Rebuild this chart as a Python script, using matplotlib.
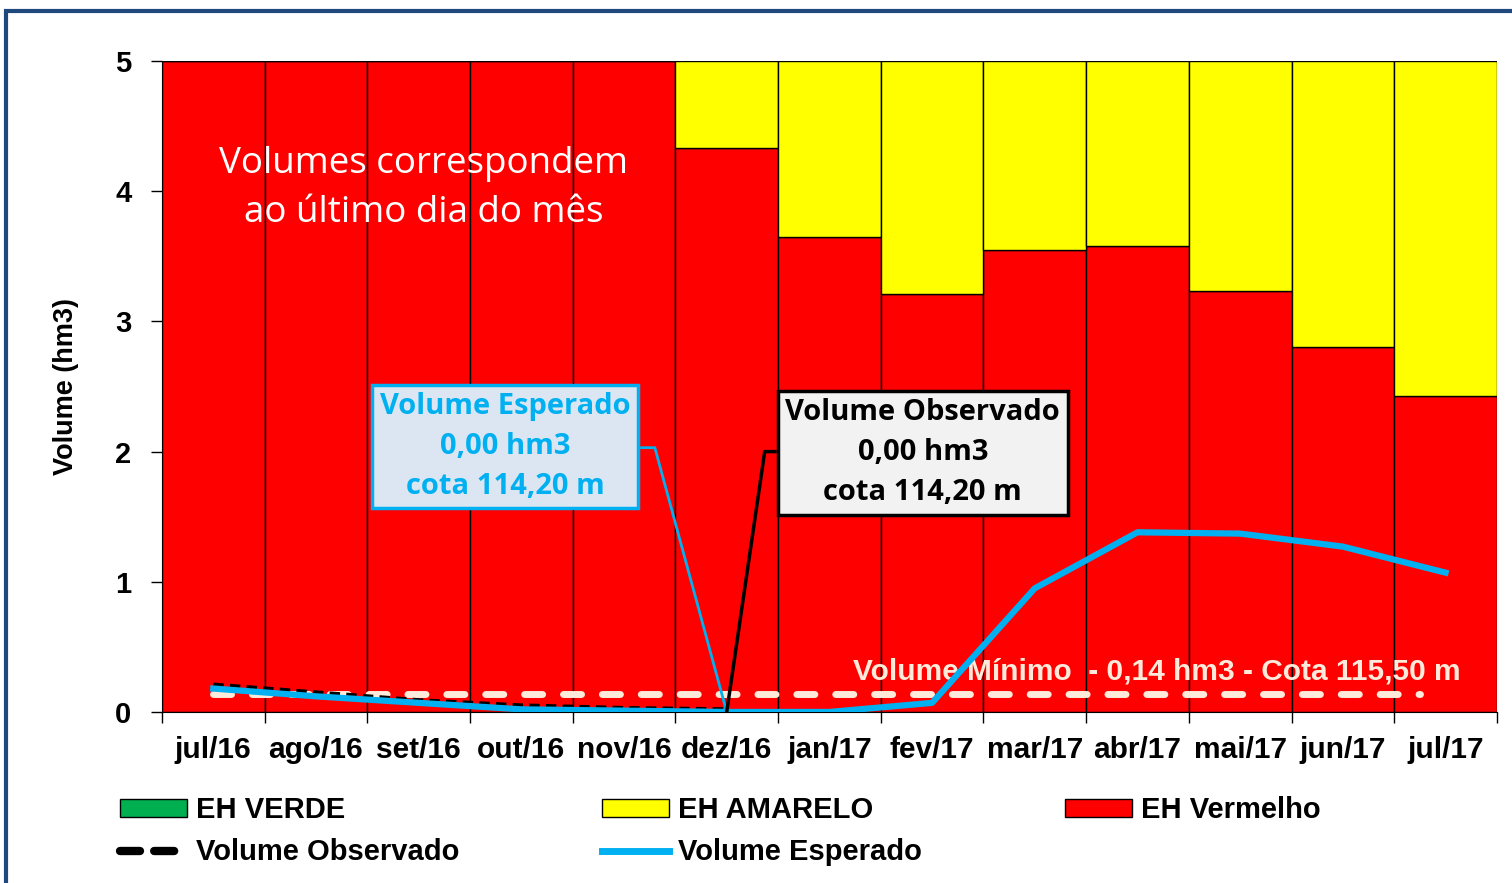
import numpy as np
import matplotlib.pyplot as plt
from matplotlib.patches import Patch, Rectangle
from matplotlib.lines import Line2D

# Monthly categories
months = ["jul/16", "ago/16", "set/16", "out/16", "nov/16", "dez/16", "jan/17",
          "fev/17", "mar/17", "abr/17", "mai/17", "jun/17", "jul/17"]

# Hydrological status bands (stacked up to 5 hm3)
eh_verde = [0, 0, 0, 0, 0, 0, 0, 0, 0, 0, 0, 0, 0]
eh_vermelho = [5.0, 5.0, 5.0, 5.0, 5.0, 4.33, 3.65, 3.21, 3.55, 3.58, 3.23, 2.80, 2.43]
eh_amarelo = [0.0, 0.0, 0.0, 0.0, 0.0, 0.67, 1.35, 1.79, 1.45, 1.42, 1.77, 2.20, 2.57]

# Volumes (hm3)
vol_observado = [0.21, 0.15, 0.09, 0.05, 0.03, 0.02]
vol_esperado = [0.18, 0.12, 0.07, 0.02, 0.01, 0.0, 0.0, 0.07, 0.95, 1.38, 1.37, 1.27, 1.07]
vol_minimo = 0.14

RED = "#FF0000"
YELLOW = "#FFFF00"
GREEN = "#00B050"
BLUE = "#00B0F0"
CREAM = "#FDEADA"

plt.rcParams["font.family"] = ["Liberation Sans", "DejaVu Sans"]

fig = plt.figure(figsize=(15.12, 8.83), dpi=100)
ax = fig.add_axes([0.1071, 0.1937, 0.8829, 0.7372])

x = np.arange(len(months))
ax.bar(x, eh_verde, width=1.0, color=GREEN, edgecolor="black", linewidth=1)
ax.bar(x, eh_vermelho, width=1.0, bottom=eh_verde, color=RED, edgecolor="black", linewidth=1)
ax.bar(x, eh_amarelo, width=1.0, bottom=np.add(eh_verde, eh_vermelho),
       color=YELLOW, edgecolor="black", linewidth=1)

# minimum volume line
ax.plot([x[0], x[-1] - 0.25], [vol_minimo, vol_minimo], color=CREAM, lw=5,
        dashes=(2.6, 3.0), dash_capstyle="round", zorder=3)
ax.text(x[-1] + 0.15, vol_minimo + 0.17, "Volume Mínimo  - 0,14 hm3 - Cota 115,50 m",
        color=CREAM, fontsize=21.5, fontweight="bold", ha="right", va="center", zorder=4)

ax.plot(x[:len(vol_observado)], vol_observado, color="black", lw=3,
        dashes=(2.5, 1.5), zorder=4)
ax.plot(x, vol_esperado, color=BLUE, lw=4.5, zorder=5, solid_joinstyle="round")

# callout boxes with leader lines
ax.plot([4.17, 4.30, 5.0], [2.03, 2.03, 0.0], color=BLUE, lw=2, zorder=5)
ax.plot([5.47, 5.37, 5.0], [2.0, 2.0, 0.0], color="black", lw=2.5, zorder=5)

ax.text(2.84, 2.04, "Volume Esperado\n0,00 hm3\ncota 114,20 m", color=BLUE,
        fontsize=21, fontweight="bold", ha="center", va="center", linespacing=1.5,
        family=["Open Sans", "DejaVu Sans"], zorder=6,
        bbox=dict(boxstyle="square,pad=0.25", fc="#DCE6F2", ec=BLUE, lw=2.5))
ax.text(6.91, 1.99, "Volume Observado\n0,00 hm3\ncota 114,20 m", color="black",
        fontsize=21, fontweight="bold", ha="center", va="center", linespacing=1.5,
        family=["Open Sans", "DejaVu Sans"], zorder=6,
        bbox=dict(boxstyle="square,pad=0.25", fc="#F2F2F2", ec="black", lw=2.5))

ax.text(2.05, 4.02, "Volumes correspondem\nao último dia do mês", color="white",
        fontsize=26.5, ha="center", va="center", linespacing=1.5,
        family=["Open Sans", "DejaVu Sans"])

ax.set_xlim(-0.5, len(months) - 0.5)
ax.set_ylim(0, 5)
ax.set_yticks(range(6))
ax.set_yticklabels([str(v) for v in range(6)], fontsize=21, fontweight="bold")
ax.set_xticks(x)
ax.set_xticklabels(months, fontsize=21.5, fontweight="bold")
ax.set_xticks(np.arange(-0.5, len(months)), minor=True)
ax.tick_params(axis="x", which="major", length=0, pad=17)
ax.tick_params(axis="x", which="minor", length=8, width=1)
ax.tick_params(axis="y", length=8, width=1, pad=14)
ax.spines["top"].set_visible(False)
ax.spines["right"].set_visible(False)
ax.set_ylabel("Volume (hm3)", fontsize=19.5, fontweight="bold", labelpad=26)

handles = [
    Patch(fc=GREEN, ec="black", label="EH VERDE"),
    Line2D([], [], color="black", lw=6, dashes=(2.4, 1.7), dash_capstyle="round",
           label="Volume Observado"),
    Patch(fc=YELLOW, ec="black", label="EH AMARELO"),
    Line2D([], [], color=BLUE, lw=5, label="Volume Esperado"),
    Patch(fc=RED, ec="black", label="EH Vermelho"),
]
fig.legend(handles=handles, ncol=3, loc="upper left", bbox_to_anchor=(0.062, 0.128),
           frameon=False, prop=dict(size=21, weight="bold"), handlelength=2.3,
           handleheight=0.55, handletextpad=0.3, columnspacing=4.9, labelspacing=0.48)

# outer frame
fig.add_artist(Rectangle((0.004, -0.05), 1.2, 1.038, transform=fig.transFigure,
                         fill=False, ec="#1F497D", lw=3))

fig.savefig("out.png", dpi=100)
